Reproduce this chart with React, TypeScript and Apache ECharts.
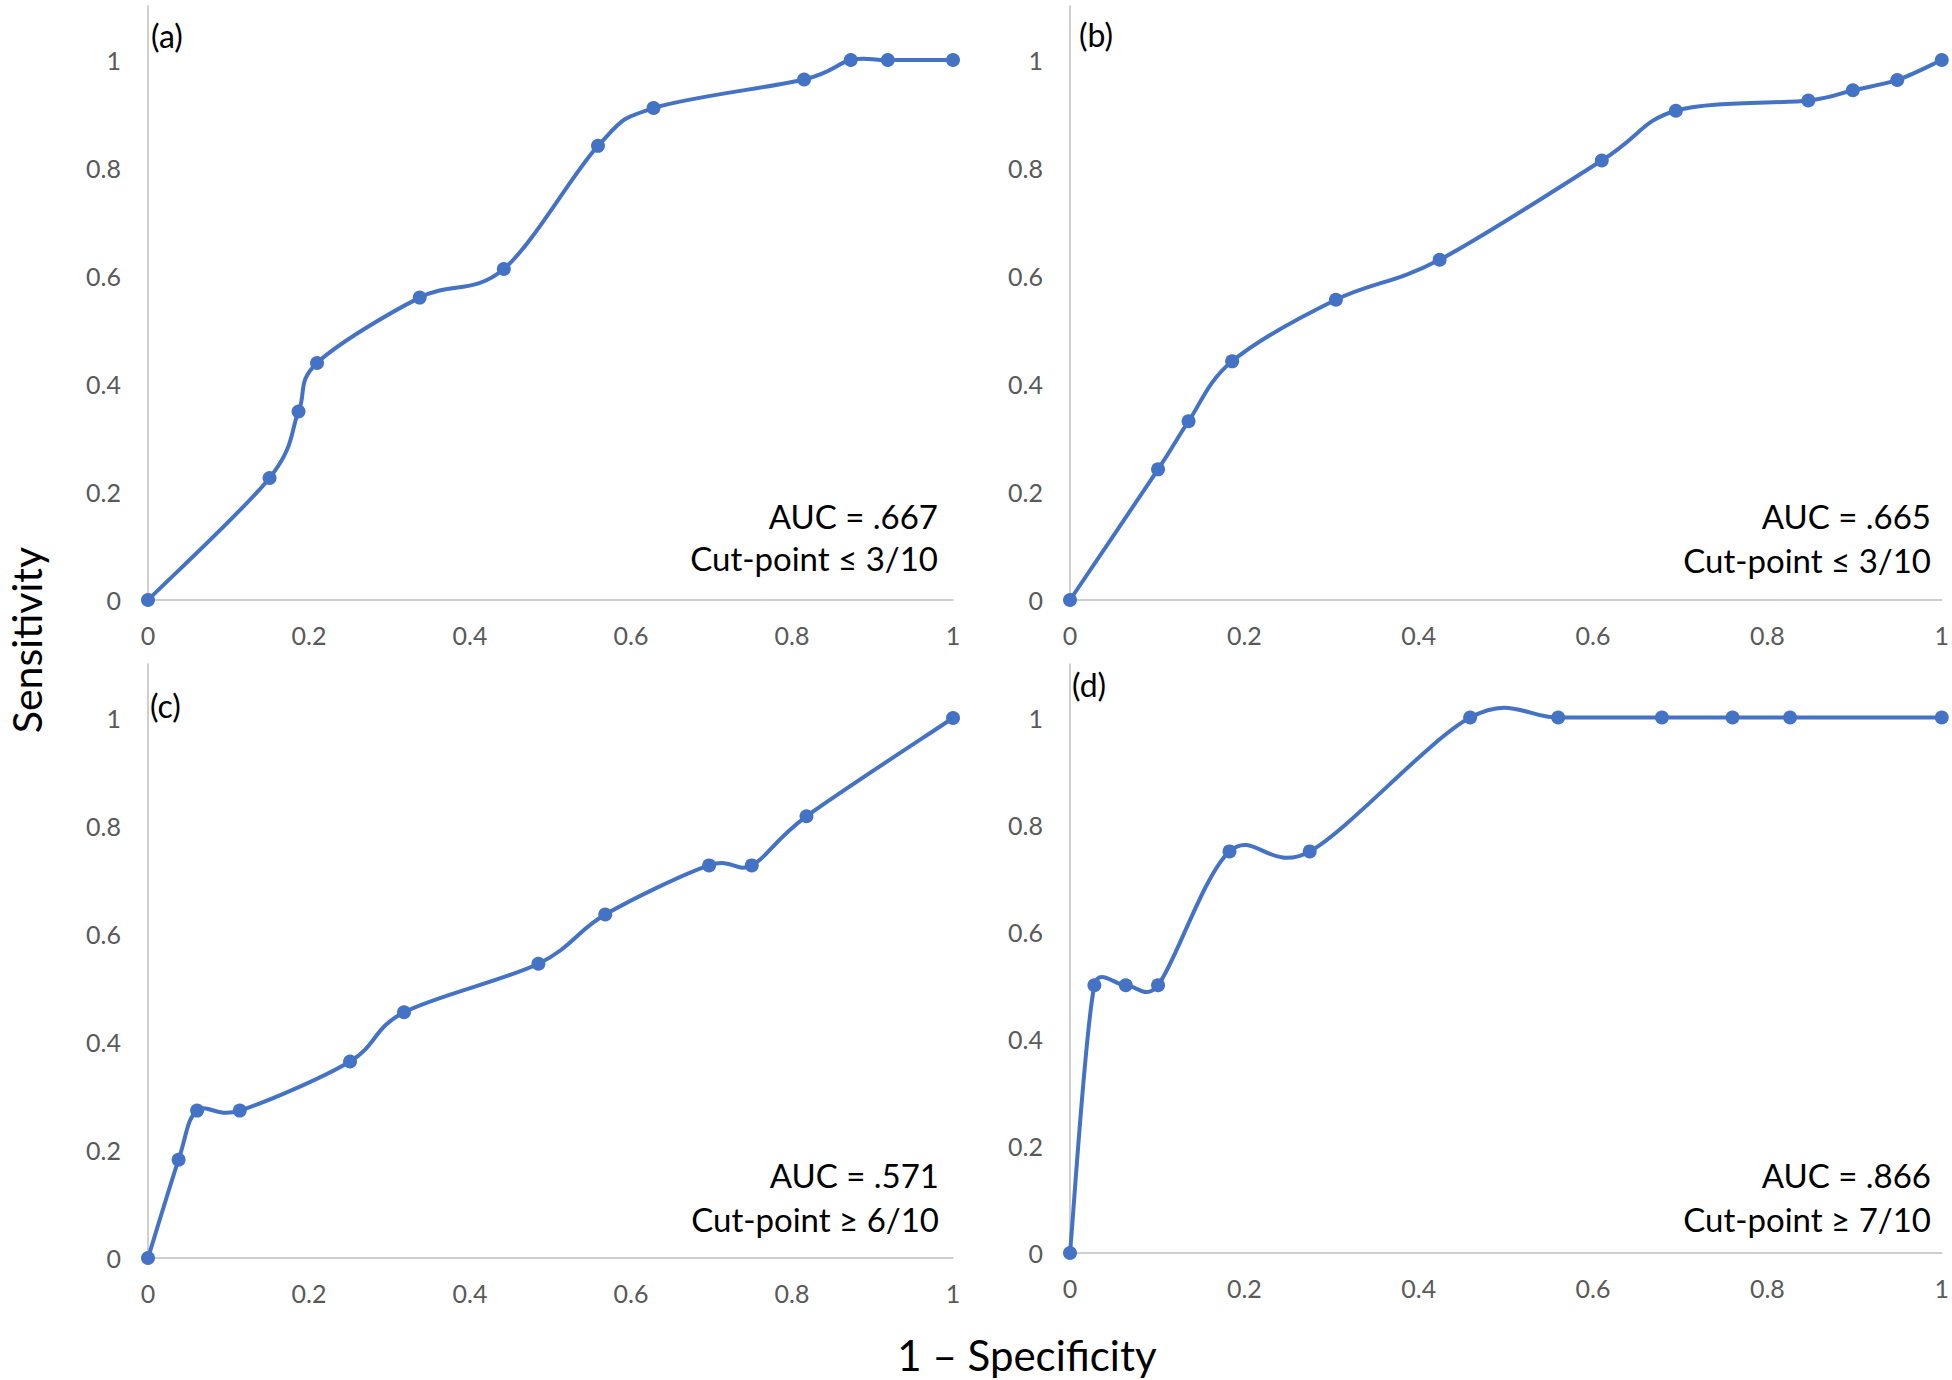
import React, { useEffect, useRef } from 'react';
import * as echarts from 'echarts';

// ---- Data ----
const xA = [0, 0.151, 0.187, 0.21, 0.3375, 0.442, 0.559, 0.628, 0.815, 0.873, 0.919, 1];
const yA = [0, 0.226, 0.349, 0.439, 0.56, 0.613, 0.841, 0.911, 0.964, 1, 1, 1];

const xB = [0, 0.101, 0.136, 0.186, 0.305, 0.424, 0.61, 0.695, 0.847, 0.898, 0.949, 1];
const yB = [0, 0.242, 0.331, 0.442, 0.556, 0.63, 0.814, 0.906, 0.925, 0.944, 0.963, 1];

const xC = [0, 0.038, 0.061, 0.114, 0.251, 0.318, 0.485, 0.568, 0.697, 0.75, 0.818, 1];
const yC = [0, 0.182, 0.273, 0.273, 0.364, 0.455, 0.545, 0.636, 0.727, 0.727, 0.818, 1];

const xD = [0, 0.028, 0.064, 0.101, 0.183, 0.275, 0.459, 0.56, 0.679, 0.76, 0.826, 1];
const yD = [0, 0.5, 0.5, 0.5, 0.75, 0.75, 1, 1, 1, 1, 1, 1];

const tickLabels = ['0', '0.2', '0.4', '0.6', '0.8', '1'];
const panelTags = ['(a)', '(b)', '(c)', '(d)'];
const aucLabels = ['AUC = .667', 'AUC = .665', 'AUC = .571', 'AUC = .866'];
const cutLabels = ['Cut-point \u2264 3/10', 'Cut-point \u2264 3/10', 'Cut-point \u2265 6/10', 'Cut-point \u2265 7/10'];
const yTitle = 'Sensitivity';
const xTitle = '1 \u2013 Specificity';

const panels = [
  { xs: xA, ys: yA },
  { xs: xB, ys: yB },
  { xs: xC, ys: yC },
  { xs: xD, ys: yD },
];

// ---- Layout ----
const FONT = 'Lato, "Open Sans", sans-serif';
const BLUE = '#4472C4';
const AXIS = '#bfbfbf';
const grids = [
  { left: 148, top: 6, width: 805, height: 594 },
  { left: 1070, top: 6, width: 876, height: 594 },
  { left: 148, top: 664, width: 805, height: 594 },
  { left: 1070, top: 664, width: 876, height: 589 },
];
const tagPos = [
  [151, 35],
  [1079, 34],
  [150, 705],
  [1072, 684],
];
const annoPos = [
  [938, 516, 558],
  [1931, 516, 560],
  [939, 1175, 1219],
  [1931, 1175, 1219],
];

function fmtTick(v: number): string {
  const idx = Math.round(v / 0.2);
  if (Math.abs(v - idx * 0.2) > 1e-6) return '';
  return tickLabels[idx] ?? '';
}

// Excel-like smoothed line: Catmull-Rom tangents (1/6) with handles clamped to the adjacent segment
function handle(ax: number, ay: number, seg: number): [number, number] {
  const k = 1 / 6;
  let hx = ax * k;
  let hy = ay * k;
  const len = Math.hypot(hx, hy);
  const lim = 0.6 * seg;
  if (len > lim && len > 0) {
    hx *= lim / len;
    hy *= lim / len;
  }
  return [hx, hy];
}

function curveSeries(xs: number[], ys: number[], gi: number) {
  const pts = xs.map((x, i) => [x, ys[i]]);
  return {
    type: 'custom',
    xAxisIndex: gi,
    yAxisIndex: gi,
    data: pts,
    encode: { x: 0, y: 1 },
    clip: false,
    z: 2,
    silent: true,
    renderItem: (params: any, api: any) => {
      if (params.dataIndex !== 0) return null;
      const c = pts.map((p) => api.coord(p));
      const n = c.length;
      let d = `M${c[0][0]},${c[0][1]}`;
      for (let i = 0; i < n - 1; i++) {
        const p0 = c[Math.max(i - 1, 0)];
        const p1 = c[i];
        const p2 = c[i + 1];
        const p3 = c[Math.min(i + 2, n - 1)];
        const seg = Math.hypot(p2[0] - p1[0], p2[1] - p1[1]);
        const h1 = handle(p2[0] - p0[0], p2[1] - p0[1], seg);
        const h2 = handle(p3[0] - p1[0], p3[1] - p1[1], seg);
        const c1x = p1[0] + h1[0];
        const c1y = p1[1] + h1[1];
        const c2x = p2[0] - h2[0];
        const c2y = p2[1] - h2[1];
        d += ` C${c1x},${c1y} ${c2x},${c2y} ${p2[0]},${p2[1]}`;
      }
      return {
        type: 'path',
        shape: { pathData: d },
        style: { fill: 'none', stroke: BLUE, lineWidth: 4, lineCap: 'round', lineJoin: 'round' },
      };
    },
  };
}

export default function App() {
  const ref = useRef<HTMLDivElement>(null);
  useEffect(() => {
    if (!ref.current) return;
    const chart = echarts.init(ref.current, undefined, { renderer: 'svg' });

    const xAxis = grids.map((_, i) => ({
      type: 'value',
      gridIndex: i,
      min: 0,
      max: 1,
      interval: 0.2,
      axisLine: { show: true, onZero: false, lineStyle: { color: AXIS, width: 1.5 } },
      axisTick: { show: false },
      splitLine: { show: false },
      axisLabel: { color: '#595959', fontSize: 25, fontFamily: FONT, margin: 22, formatter: fmtTick },
    }));
    const yAxis = grids.map((_, i) => ({
      type: 'value',
      gridIndex: i,
      min: 0,
      max: 1.1,
      interval: 0.2,
      axisLine: { show: true, onZero: false, lineStyle: { color: AXIS, width: 1.5 } },
      axisTick: { show: false },
      splitLine: { show: false },
      axisLabel: { color: '#595959', fontSize: 25, fontFamily: FONT, margin: 27, formatter: fmtTick },
    }));

    const series: any[] = [];
    panels.forEach((p, i) => {
      series.push(curveSeries(p.xs, p.ys, i));
      series.push({
        type: 'scatter',
        xAxisIndex: i,
        yAxisIndex: i,
        data: p.xs.map((x, j) => [x, p.ys[j]]),
        symbol: 'circle',
        symbolSize: 14,
        itemStyle: { color: BLUE, opacity: 1 },
        z: 3,
        silent: true,
      });
    });

    const graphic: any[] = [];
    panelTags.forEach((t, i) => {
      graphic.push({
        type: 'text',
        x: tagPos[i][0],
        y: tagPos[i][1],
        style: { text: t, fill: '#000', fontSize: 32, fontFamily: FONT, align: 'left', verticalAlign: 'middle' },
      });
      graphic.push({
        type: 'text',
        x: annoPos[i][0],
        y: annoPos[i][1],
        style: { text: aucLabels[i], fill: '#000', fontSize: 33, fontFamily: FONT, align: 'right', verticalAlign: 'middle' },
      });
      graphic.push({
        type: 'text',
        x: annoPos[i][0],
        y: annoPos[i][2],
        style: { text: cutLabels[i], fill: '#000', fontSize: 33, fontFamily: FONT, align: 'right', verticalAlign: 'middle' },
      });
    });
    graphic.push({
      type: 'text',
      x: 26,
      y: 640,
      rotation: Math.PI / 2,
      style: { text: yTitle, fill: '#000', fontSize: 41, fontFamily: FONT, align: 'center', verticalAlign: 'middle' },
    });
    graphic.push({
      type: 'text',
      x: 1027,
      y: 1355,
      style: { text: xTitle, fill: '#000', fontSize: 42, fontFamily: FONT, align: 'center', verticalAlign: 'middle' },
    });

    chart.setOption({
      animation: false,
      backgroundColor: '#ffffff',
      grid: grids.map((g) => ({ ...g, containLabel: false })),
      xAxis,
      yAxis,
      series,
      graphic,
    });
    return () => chart.dispose();
  }, []);
  return (
    <div
      ref={ref}
      style={{ position: 'absolute', left: 0, top: 0, width: 1952, height: 1380, background: '#fff' }}
    />
  );
}
